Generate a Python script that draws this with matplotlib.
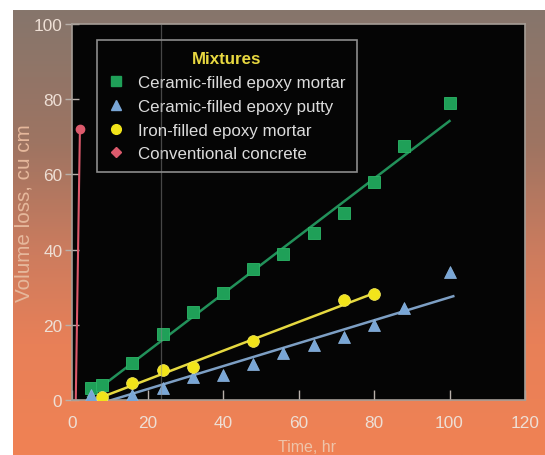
import numpy as np
import matplotlib
matplotlib.use("Agg")
import matplotlib.pyplot as plt
from matplotlib.lines import Line2D

plt.rcParams["font.family"] = ["Liberation Sans", "DejaVu Sans"]

# ── Data: volume loss (cu cm) vs abrasion time (hr) ──
ceramic_mortar_t = [5, 8, 16, 24, 32, 40, 48, 56, 64, 72, 80, 88, 100]
ceramic_mortar_v = [3.1, 4.0, 9.8, 17.5, 23.4, 28.4, 34.8, 38.7, 44.3, 49.8, 58.0, 67.6, 78.9]

ceramic_putty_t = [5, 16, 24, 32, 40, 48, 56, 64, 72, 80, 88, 100]
ceramic_putty_v = [1.3, 1.2, 3.1, 6.2, 6.7, 9.6, 12.6, 14.7, 16.7, 20.0, 24.4, 34.0]

iron_mortar_t = [8, 16, 24, 32, 48, 72, 80]
iron_mortar_v = [0.7, 4.6, 8.0, 8.9, 15.8, 26.7, 28.3]

concrete_t = [1.0, 2.1]
concrete_v = [0.0, 72.2]

# fitted trend lines (end points)
ceramic_mortar_fit_t = [4.3, 100]
ceramic_mortar_fit_v = [0.9, 74.2]
ceramic_putty_fit_t = [10.5, 101]
ceramic_putty_fit_v = [0.0, 27.6]
iron_mortar_fit_t = [8.2, 80]
iron_mortar_fit_v = [0.9, 28.4]

x_ticks = [0, 20, 40, 60, 80, 100, 120]
y_ticks = [0, 20, 40, 60, 80, 100]

labels = ["Ceramic-filled epoxy mortar", "Ceramic-filled epoxy putty",
          "Iron-filled epoxy mortar", "Conventional concrete"]

GREEN = "#1fa058"
BLUE = "#79a6d6"
YELLOW = "#f2e41a"
RED = "#dc5a6c"
TXT = "#eedfd5"
FRAME = "#a59d96"

W, H = 545, 456
fig = plt.figure(figsize=(W / 100, H / 100), dpi=100)
fig.patch.set_facecolor("white")

# brown-to-orange backdrop
bg = fig.add_axes([13 / W, 0, 1 - 13 / W, 1 - 11 / H])
stops = np.array([0.0, 0.3, 0.55, 0.75, 1.0])
cols = np.array([[134, 118, 108], [158, 116, 98], [205, 124, 94],
                 [232, 128, 88], [240, 130, 84]]) / 255.0
yy = np.linspace(0, 1, 300)
grad = np.stack([np.interp(yy, stops, cols[:, i]) for i in range(3)], axis=-1)
bg.imshow(grad[:, None, :], aspect="auto", extent=[0, 1, 1, 0])
bg.set_axis_off()

ax = fig.add_axes([72 / W, 1 - 401 / H, (525 - 72) / W, (401 - 25) / H])
ax.set_facecolor("#050505")
ax.set_xlim(0, 120)
ax.set_ylim(0, 100)

# trend lines
ax.plot(ceramic_mortar_fit_t, ceramic_mortar_fit_v, color="#22915a", lw=1.8, zorder=2)
ax.plot(ceramic_putty_fit_t, ceramic_putty_fit_v, color="#7d9fc4", lw=1.8, zorder=2)
ax.plot(iron_mortar_fit_t, iron_mortar_fit_v, color="#e6d940", lw=1.8, zorder=2)
ax.plot(concrete_t, concrete_v, color=RED, lw=1.5, zorder=2)

# measured points
ax.plot(ceramic_mortar_t, ceramic_mortar_v, "s", color=GREEN, ms=8.5,
        mec="#2cb868", mew=0.6, zorder=3)
ax.plot(ceramic_putty_t, ceramic_putty_v, "^", color=BLUE, ms=8.5,
        mec="#8fb8e2", mew=0.5, zorder=3)
ax.plot(iron_mortar_t, iron_mortar_v, "o", color=YELLOW, ms=8.5,
        mec="#f6ec60", mew=0.5, zorder=3)
ax.plot(concrete_t[-1:], concrete_v[-1:], "o", color=RED, ms=6, zorder=3)

# faint vertical streak
ax.axvline(23.5, color="#8a8a8a", lw=0.9, alpha=0.5, zorder=6)

for s in ax.spines.values():
    s.set_color(FRAME)
    s.set_linewidth(1.2)

ax.set_xticks(x_ticks)
ax.set_yticks(y_ticks)
ax.tick_params(axis="x", direction="in", length=7, width=1, color="#b8b0aa",
               labelsize=12.4, labelcolor=TXT, pad=11)
ax.tick_params(axis="y", direction="inout", length=10, width=1, color="#b8b0aa",
               labelsize=12.4, labelcolor=TXT, pad=2)

ax.set_ylabel("Volume loss, cu cm", fontsize=14.9, color="#e6b89c")
ax.yaxis.set_label_coords(-0.086, 0.5)
ax.set_xlabel("Time, hr", fontsize=11.5, color="#eec4aa")
ax.xaxis.set_label_coords(0.519, -0.104)

handles = [
    Line2D([], [], ls="none", marker="s", color=GREEN, ms=7),
    Line2D([], [], ls="none", marker="^", color=BLUE, ms=7),
    Line2D([], [], ls="none", marker="o", color=YELLOW, ms=7),
    Line2D([], [], ls="none", marker="D", color=RED, ms=5.5),
]
leg = ax.legend(handles, labels, title="Mixtures", loc="upper left",
                bbox_to_anchor=(0.055, 0.957), borderaxespad=0, fontsize=12.2,
                frameon=True, fancybox=False, facecolor="#050505",
                edgecolor="#8c8c8c", framealpha=1, handlelength=1.0,
                handletextpad=0.8, labelspacing=0.52, borderpad=0.65)
leg.get_frame().set_linewidth(1.2)
for t in leg.get_texts():
    t.set_color("#dcdcdc")
leg.get_title().set_color("#e8d840")
leg.get_title().set_fontweight("bold")
leg.get_title().set_fontsize(12.2)
leg.set_zorder(5)

fig.savefig("out.png", dpi=100, facecolor=fig.get_facecolor())
